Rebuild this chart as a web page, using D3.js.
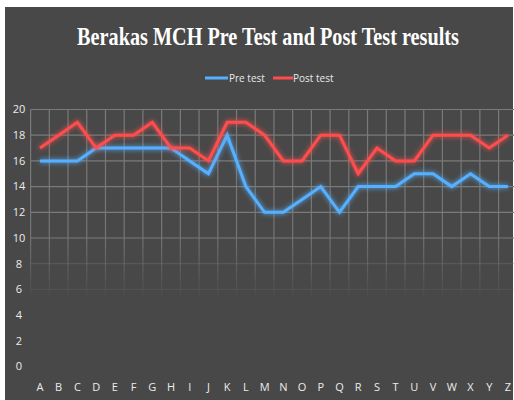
<!DOCTYPE html>
<html>
<head>
<meta charset="utf-8">
<script src="https://cdn.jsdelivr.net/npm/d3@7"></script>
<style>
  html, body { margin: 0; padding: 0; background: #fff; }
</style>
</head>
<body>
<script>
const categories = "ABCDEFGHIJKLMNOPQRSTUVWXYZ".split("");
const preTest = [16, 16, 16, 17, 17, 17, 17, 17, 16, 15, 18, 14, 12, 12, 13, 14, 12, 14, 14, 14, 15, 15, 14, 15, 14, 14];
const postTest = [17, 18, 19, 17, 18, 18, 19, 17, 17, 16, 19, 19, 18, 16, 16, 18, 18, 15, 17, 16, 16, 18, 18, 18, 17, 18];
const yTicks = [0, 2, 4, 6, 8, 10, 12, 14, 16, 18, 20];

const width = 514, height = 400;

const svg = d3.select("body").append("svg")
  .attr("width", width)
  .attr("height", height);

const defs = svg.append("defs");

// soft glow round the lines
const glow = defs.append("filter").attr("id", "glow")
  .attr("x", "-10%").attr("y", "-30%").attr("width", "120%").attr("height", "160%");
glow.append("feGaussianBlur").attr("in", "SourceGraphic").attr("stdDeviation", 2.5).attr("result", "blur");
const merge = glow.append("feMerge");
merge.append("feMergeNode").attr("in", "blur");
merge.append("feMergeNode").attr("in", "SourceGraphic");

// vertical grid fades out in the lower half
const fade = defs.append("linearGradient").attr("id", "vfade")
  .attr("gradientUnits", "userSpaceOnUse")
  .attr("x1", 0).attr("x2", 0).attr("y1", 110).attr("y2", 300);
fade.append("stop").attr("offset", "0%").attr("stop-color", "#7a7a7a").attr("stop-opacity", 1);
fade.append("stop").attr("offset", "65%").attr("stop-color", "#7a7a7a").attr("stop-opacity", 0.9);
fade.append("stop").attr("offset", "100%").attr("stop-color", "#7a7a7a").attr("stop-opacity", 0);

svg.append("rect")
  .attr("x", 5).attr("y", 7)
  .attr("width", 508).attr("height", height - 7)
  .attr("fill", "#484848");

const x = d3.scaleBand().domain(categories).range([30.6, 517.3]).paddingInner(0).paddingOuter(0);
const y = d3.scaleLinear().domain([0, 20]).range([366.5, 109.5]);
const cx = d => x(d) + x.bandwidth() / 2;

// horizontal grid
svg.append("g")
  .selectAll("line")
  .data(yTicks.filter(t => t >= 6))
  .join("line")
  .attr("x1", 30.6).attr("x2", 514)
  .attr("y1", d => y(d)).attr("y2", d => y(d))
  .attr("stroke", "#7a7a7a")
  .attr("stroke-width", 1.2)
  .attr("stroke-opacity", d => d >= 10 ? 1 : d === 8 ? 0.35 : 0.18);

// vertical grid at band edges
const edges = categories.map(c => x(c));
svg.append("g")
  .selectAll("line")
  .data(edges)
  .join("line")
  .attr("x1", d => d).attr("x2", d => d)
  .attr("y1", y(20)).attr("y2", 300)
  .attr("stroke", "url(#vfade)")
  .attr("stroke-width", 1.2);

// y labels
svg.append("g")
  .selectAll("text")
  .data(yTicks)
  .join("text")
  .attr("x", 19)
  .attr("y", d => y(d))
  .attr("dy", "0.35em")
  .attr("text-anchor", "middle")
  .attr("fill", "#ececec")
  .style("font", "11px 'Open Sans', sans-serif")
  .text(d => d);

// x labels
svg.append("g")
  .selectAll("text")
  .data(categories)
  .join("text")
  .attr("x", d => cx(d))
  .attr("y", 387)
  .attr("dy", "0.35em")
  .attr("text-anchor", "middle")
  .attr("fill", "#ececec")
  .style("font", "11px 'Open Sans', sans-serif")
  .text(d => d);

const line = d3.line()
  .x((d, i) => cx(categories[i]))
  .y(d => y(d));

const series = [
  { name: "Pre test", values: preTest, color: "#55b0ff" },
  { name: "Post test", values: postTest, color: "#ff4d4d" },
];

svg.append("g")
  .selectAll("path")
  .data(series)
  .join("path")
  .attr("d", d => line(d.values))
  .attr("fill", "none")
  .attr("stroke", d => d.color)
  .attr("stroke-width", 3)
  .attr("stroke-linejoin", "miter")
  .attr("filter", "url(#glow)");

// title, squeezed horizontally like the condensed original
const title = svg.append("text")
  .attr("x", 0)
  .attr("y", 0)
  .attr("text-anchor", "middle")
  .attr("fill", "#ffffff")
  .style("font", "bold 26px 'Liberation Serif', 'Times New Roman', serif")
  .text("Berakas MCH Pre Test and Post Test results");
const natural = title.node().getComputedTextLength();
const sx = 382 / natural;
title.attr("transform", `translate(268,45) scale(${sx},1)`);

// legend
const legendPos = [{ x1: 205, x2: 228, tx: 229 }, { x1: 273, x2: 293, tx: 293 }];
const legend = svg.append("g")
  .selectAll("g")
  .data(series)
  .join("g");
legend.append("line")
  .attr("x1", (d, i) => legendPos[i].x1)
  .attr("x2", (d, i) => legendPos[i].x2)
  .attr("y1", 78).attr("y2", 78)
  .attr("stroke", d => d.color)
  .attr("stroke-width", 3);
legend.append("text")
  .attr("x", (d, i) => legendPos[i].tx)
  .attr("y", 78)
  .attr("dy", "0.35em")
  .attr("fill", "#e8e8e8")
  .style("font", "10px 'Liberation Sans Narrow', 'Open Sans', sans-serif")
  .text(d => d.name);
</script>
</body>
</html>
